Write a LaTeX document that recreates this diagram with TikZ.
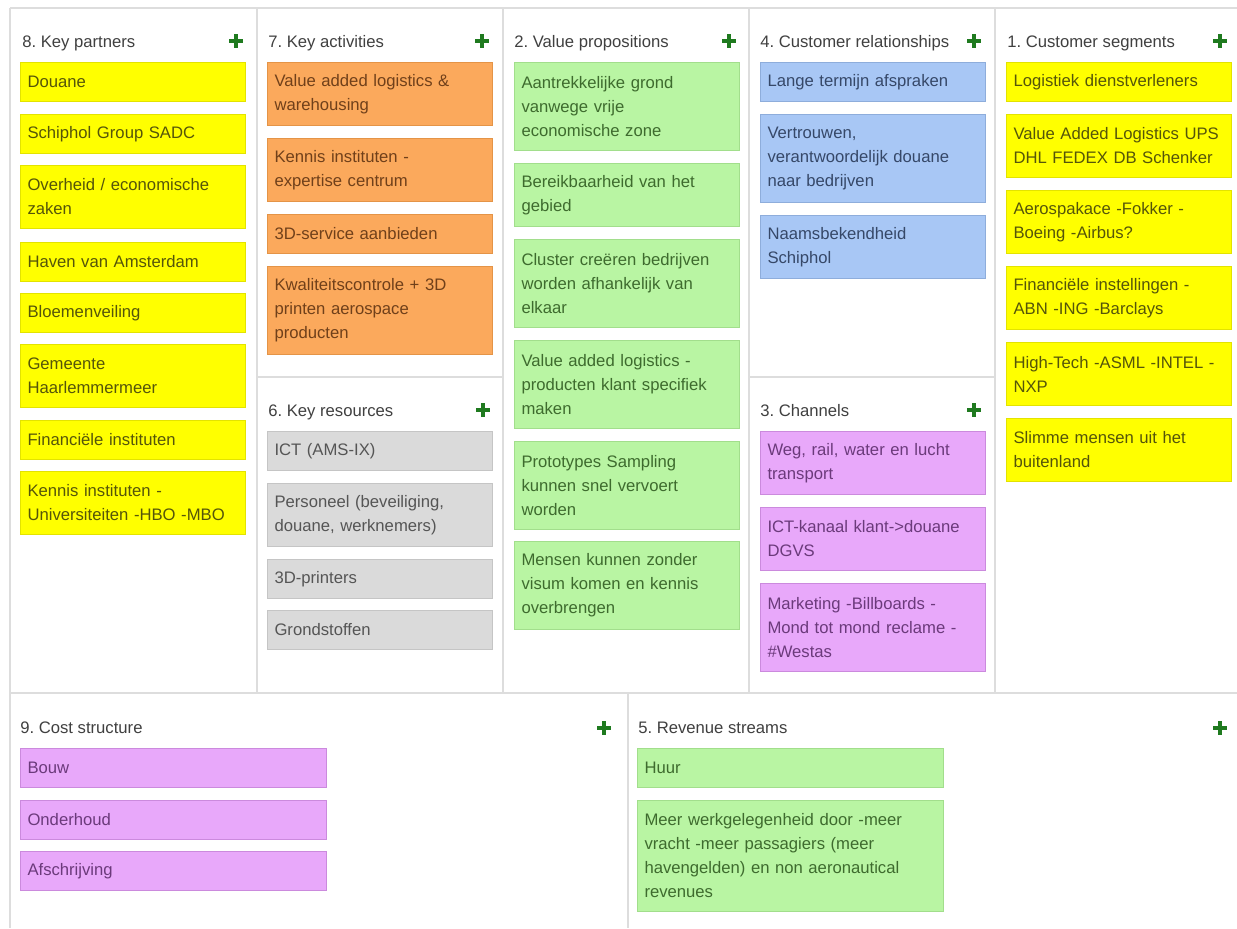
\documentclass[tikz,border=0pt]{standalone}
\usepackage{fontspec}
\setmainfont{Liberation Sans}
\definecolor{gridc}{HTML}{DDDDDD}
\definecolor{hdrc}{HTML}{404040}
\definecolor{plusc}{HTML}{1F7A1F}
\definecolor{yelF}{HTML}{FFFF00}\definecolor{yelD}{HTML}{E3E300}\definecolor{yelT}{HTML}{55550A}
\definecolor{oraF}{HTML}{FBA95C}\definecolor{oraD}{HTML}{E49447}\definecolor{oraT}{HTML}{70401A}
\definecolor{greF}{HTML}{B9F5A3}\definecolor{greD}{HTML}{A2DE8C}\definecolor{greT}{HTML}{3E6B2E}
\definecolor{bluF}{HTML}{A8C7F5}\definecolor{bluD}{HTML}{8EADDB}\definecolor{bluT}{HTML}{364868}
\definecolor{graF}{HTML}{DADADA}\definecolor{graD}{HTML}{C5C5C5}\definecolor{graT}{HTML}{555555}
\definecolor{purF}{HTML}{E8A8FA}\definecolor{purD}{HTML}{CB8ADD}\definecolor{purT}{HTML}{6B3A7B}
\newcommand{\cardfont}{\fontsize{12.5}{18}\selectfont\frenchspacing}
\tikzset{
  gridline/.style={draw=gridc, line width=1.5pt},
  hdr/.style={anchor=base west, inner sep=0pt, text=hdrc, font=\cardfont},
  plusmark/.style={draw=plusc, line width=3.2pt},
  card/.style={draw, anchor=north west, align=left, inner xsep=5.25pt, inner ysep=0pt,
    text width=158.25pt, line width=0.75pt, font=\cardfont},
  wide/.style={text width=219pt},
  hA/.style={minimum height=29.25pt},
  hB/.style={minimum height=47.25pt},
  hC/.style={minimum height=66pt},
  hD/.style={minimum height=83.25pt},
  yel/.style={card, fill=yelF, draw=yelD, text=yelT},
  ora/.style={card, fill=oraF, draw=oraD, text=oraT},
  gre/.style={card, fill=greF, draw=greD, text=greT},
  blu/.style={card, fill=bluF, draw=bluD, text=bluT},
  gra/.style={card, fill=graF, draw=graD, text=graT},
  pur/.style={card, fill=purF, draw=purD, text=purT},
}
\newcommand{\plusat}[2]{\draw[plusmark] (#1-7,#2) -- (#1+7,#2) (#1,#2-7) -- (#1,#2+7);}
\begin{document}
\begin{tikzpicture}[x=0.75pt,y=-0.75pt]
\useasboundingbox (0,0) rectangle (1237,928);
\fill[white] (0,0) rectangle (1237,928);
% grid
\draw[gridline] (10,8) -- (1237,8);
\draw[gridline] (10,8) -- (10,928);
\foreach \xx in {257,503,749,995} {\draw[gridline] (\xx,8) -- (\xx,693);}
\draw[gridline] (10,693) -- (1237,693);
\draw[gridline] (628,693) -- (628,928);
\draw[gridline] (257,377) -- (503,377);
\draw[gridline] (749,377) -- (995,377);
% headers
\node[hdr] (h8) at (22,47) {8. Key partners};
\node[hdr] (h7) at (268,47) {7. Key activities};
\node[hdr] (h2) at (514,47) {2. Value propositions};
\node[hdr] (h4) at (760,47) {4. Customer relationships};
\node[hdr] (h1) at (1007,47) {1. Customer segments};
\node[hdr] (h6) at (268,416) {6. Key resources};
\node[hdr] (h3) at (760,416) {3. Channels};
\node[hdr] (h9) at (20,733) {9. Cost structure};
\node[hdr] (h5) at (638,733) {5. Revenue streams};
\plusat{236}{41}
\plusat{482}{41}
\plusat{729}{41}
\plusat{974}{41}
\plusat{1220}{41}
\plusat{483}{410}
\plusat{974}{410}
\plusat{604}{728}
\plusat{1220}{728}
% key partners
\node[yel,hA] (kp1) at (20,62) {Douane};
\node[yel,hA] (kp2) at (20,114) {Schiphol Group SADC};
\node[yel,hB] (kp3) at (20,165) {Overheid / economische\\zaken};
\node[yel,hA] (kp4) at (20,242) {Haven van Amsterdam};
\node[yel,hA] (kp5) at (20,293) {Bloemenveiling};
\node[yel,hB] (kp6) at (20,344) {Gemeente\\Haarlemmermeer};
\node[yel,hA] (kp7) at (20,420) {Financiële instituten};
\node[yel,hB] (kp8) at (20,471) {Kennis instituten -\\Universiteiten -HBO -MBO};
% key activities
\node[ora,hB] (ka1) at (267,62) {Value added logistics \&\\warehousing};
\node[ora,hB] (ka2) at (267,138) {Kennis instituten -\\expertise centrum};
\node[ora,hA] (ka3) at (267,214) {3D-service aanbieden};
\node[ora,hC] (ka4) at (267,266) {Kwaliteitscontrole + 3D\\printen aerospace\\producten};
% key resources
\node[gra,hA] (kr1) at (267,431) {ICT (AMS-IX)};
\node[gra,hB] (kr2) at (267,483) {Personeel (beveiliging,\\douane, werknemers)};
\node[gra,hA] (kr3) at (267,559) {3D-printers};
\node[gra,hA] (kr4) at (267,610) {Grondstoffen};
% value propositions
\node[gre,hC] (vp1) at (514,62) {Aantrekkelijke grond\\vanwege vrije\\economische zone};
\node[gre,hB] (vp2) at (514,163) {Bereikbaarheid van het\\gebied};
\node[gre,hC] (vp3) at (514,239) {Cluster creëren bedrijven\\worden afhankelijk van\\elkaar};
\node[gre,hC] (vp4) at (514,340) {Value added logistics -\\producten klant specifiek\\maken};
\node[gre,hC] (vp5) at (514,441) {Prototypes Sampling\\kunnen snel vervoert\\worden};
\node[gre,hC] (vp6) at (514,541) {Mensen kunnen zonder\\visum komen en kennis\\overbrengen};
% customer relationships
\node[blu,hA] (cr1) at (760,62) {Lange termijn afspraken};
\node[blu,hC] (cr2) at (760,114) {Vertrouwen,\\verantwoordelijk douane\\naar bedrijven};
\node[blu,hB] (cr3) at (760,215) {Naamsbekendheid\\Schiphol};
% channels
\node[pur,hB] (ch1) at (760,431) {Weg, rail, water en lucht\\transport};
\node[pur,hB] (ch2) at (760,507) {ICT-kanaal klant->douane\\DGVS};
\node[pur,hC] (ch3) at (760,583) {Marketing -Billboards -\\Mond tot mond reclame -\\\#Westas};
% customer segments
\node[yel,hA] (cs1) at (1006,62) {Logistiek dienstverleners};
\node[yel,hB] (cs2) at (1006,114) {Value Added Logistics UPS\\DHL FEDEX DB Schenker};
\node[yel,hB] (cs3) at (1006,190) {Aerospakace -Fokker -\\Boeing -Airbus?};
\node[yel,hB] (cs4) at (1006,266) {Financiële instellingen -\\ABN -ING -Barclays};
\node[yel,hB] (cs5) at (1006,342) {High-Tech -ASML -INTEL -\\NXP};
\node[yel,hB] (cs6) at (1006,418) {Slimme mensen uit het\\buitenland};
% cost structure
\node[pur,hA,wide] (co1) at (20,748) {Bouw};
\node[pur,hA,wide] (co2) at (20,800) {Onderhoud};
\node[pur,hA,wide] (co3) at (20,851) {Afschrijving};
% revenue streams
\node[gre,hA,wide] (rs1) at (637,748) {Huur};
\node[gre,hD,wide] (rs2) at (637,800) {Meer werkgelegenheid door -meer\\vracht -meer passagiers (meer\\havengelden) en non aeronautical\\revenues};
\end{tikzpicture}
\end{document}
